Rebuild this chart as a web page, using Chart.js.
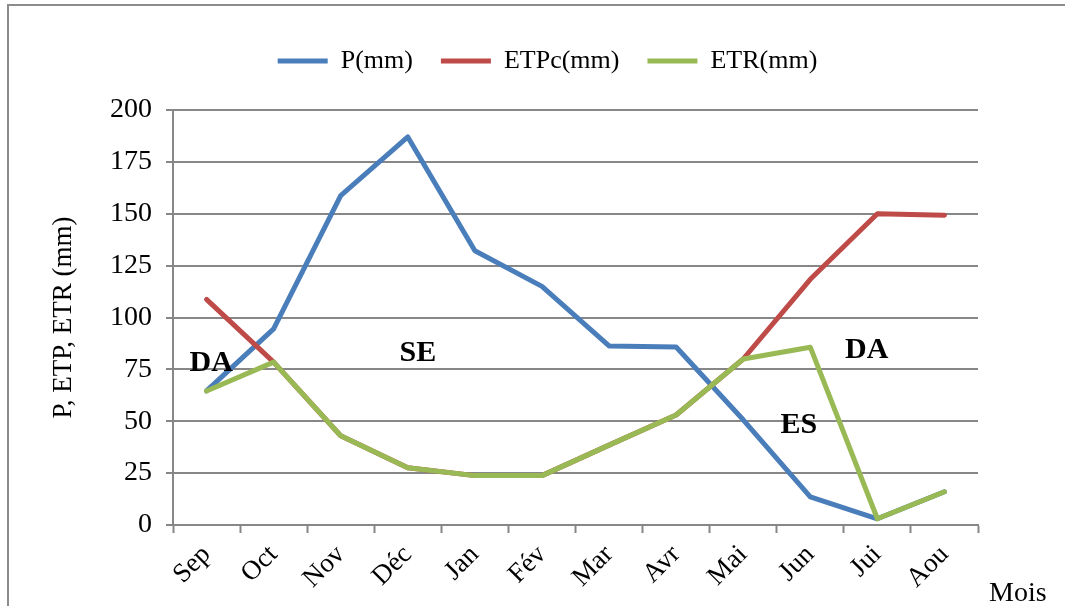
<!DOCTYPE html>
<html lang="fr">
<head>
<meta charset="utf-8">
<title>Bilan hydrique mensuel</title>
<script src="https://cdn.jsdelivr.net/npm/chart.js@4.4.1/dist/chart.umd.min.js"></script>
<style>
  html, body { margin: 0; padding: 0; background: #ffffff; }
  #wrap { width: 1065px; height: 606px; }
</style>
</head>
<body>
<div id="wrap"><canvas id="bilan" width="1065" height="606"></canvas></div>
<script>
// Mois de l'année hydrologique
const months = ['Sep', 'Oct', 'Nov', 'Déc', 'Jan', 'Fév', 'Mar', 'Avr', 'Mai', 'Jun', 'Jui', 'Aou'];

// Précipitations, ETP corrigée et ETR (mm)
const precip = [64.6, 94.5, 158.7, 187, 132.2, 115, 86.3, 85.8, 50.7, 13.6, 3, 16];
const etpc   = [108.7, 78.5, 43, 27.6, 23.8, 23.8, 38.5, 53, 80, 118.4, 150, 149.3];
const etr    = [64.6, 78.5, 43, 27.6, 23.8, 23.8, 38.5, 53, 80, 85.7, 3, 16];

// Graduations de l'axe vertical
const yTicks = [0, 25, 50, 75, 100, 125, 150, 175, 200];

// Zones du bilan : texte, position en indice de mois et en mm
const zoneLabels = [
  { text: 'DA', at: 0.07, mm: 78 },
  { text: 'SE', at: 3.15, mm: 83 },
  { text: 'ES', at: 8.83, mm: 48 },
  { text: 'DA', at: 9.84, mm: 84 }
];

const SERIF = '"Liberation Serif", "Times New Roman", serif';
const GRID = '#878787';

const frameAndNotes = {
  id: 'frameAndNotes',
  afterInit(chart) {
    const legend = chart.legend;
    const baseFit = legend.fit;
    legend.fit = function () {
      baseFit.call(this);
      this.height = 90;
    };
  },
  afterLayout(chart) {
    chart.legend.left = 118;
    chart.legend.right = 977;
  },
  beforeDraw(chart) {
    const ctx = chart.ctx;
    ctx.save();
    ctx.fillStyle = '#ffffff';
    ctx.fillRect(0, 0, chart.width, chart.height);
    ctx.strokeStyle = '#8c8c8c';
    ctx.lineWidth = 2;
    ctx.beginPath();
    ctx.moveTo(8, chart.height + 5);
    ctx.lineTo(8, 5);
    ctx.lineTo(chart.width + 5, 5);
    ctx.stroke();
    ctx.restore();
  },
  afterDraw(chart) {
    const ctx = chart.ctx;
    const xs = chart.scales.x;
    const ys = chart.scales.y;
    ctx.save();
    ctx.fillStyle = '#000000';
    ctx.textAlign = 'center';
    ctx.textBaseline = 'middle';
    ctx.font = 'bold 30px ' + SERIF;
    zoneLabels.forEach(z => {
      ctx.fillText(z.text, xs.getPixelForValue(z.at), ys.getPixelForValue(z.mm));
    });
    ctx.font = '28px ' + SERIF;
    ctx.textAlign = 'left';
    ctx.fillText('Mois', xs.right + 11, xs.top + 69);
    ctx.restore();
  }
};

const lineStyle = {
  fill: false,
  borderWidth: 5,
  pointRadius: 0,
  pointHoverRadius: 0,
  tension: 0,
  borderCapStyle: 'round',
  borderJoinStyle: 'round'
};

new Chart(document.getElementById('bilan'), {
  type: 'line',
  data: {
    labels: months,
    datasets: [
      Object.assign({ label: 'P(mm)', data: precip, borderColor: '#4a7ebb', backgroundColor: '#4a7ebb', order: 3 }, lineStyle),
      Object.assign({ label: 'ETPc(mm)', data: etpc, borderColor: '#be4b48', backgroundColor: '#be4b48', order: 2 }, lineStyle),
      Object.assign({ label: 'ETR(mm)', data: etr, borderColor: '#98b954', backgroundColor: '#98b954', order: 1 }, lineStyle)
    ]
  },
  options: {
    responsive: false,
    animation: false,
    events: [],
    layout: { padding: { top: 20, left: 0, right: 87, bottom: 0 } },
    plugins: {
      tooltip: { enabled: false },
      legend: {
        position: 'top',
        align: 'center',
        labels: {
          usePointStyle: true,
          pointStyle: 'line',
          pointStyleWidth: 50,
          boxHeight: 20,
          padding: 28,
          color: '#000000',
          font: { family: SERIF, size: 26 },
          sort: (a, b) => a.datasetIndex - b.datasetIndex
        }
      }
    },
    scales: {
      x: {
        type: 'category',
        offset: true,
        afterFit(scale) { scale.height = 81; },
        grid: {
          offset: true,
          drawOnChartArea: false,
          drawTicks: true,
          tickLength: 8,
          tickWidth: 2,
          tickColor: GRID,
          color: GRID
        },
        border: { display: true, color: GRID, width: 2 },
        ticks: {
          autoSkip: false,
          maxRotation: 45,
          minRotation: 45,
          padding: 6,
          color: '#000000',
          font: { family: SERIF, size: 27 }
        }
      },
      y: {
        min: 0,
        max: 200,
        afterFit(scale) { scale.width = 173; },
        afterBuildTicks(scale) { scale.ticks = yTicks.map(v => ({ value: v })); },
        grid: {
          color: GRID,
          lineWidth: 2,
          drawTicks: true,
          tickLength: 7,
          tickWidth: 2,
          tickColor: GRID
        },
        border: { display: true, color: GRID, width: 2 },
        ticks: {
          padding: 14,
          color: '#000000',
          font: { family: SERIF, size: 28 }
        },
        title: {
          display: true,
          text: 'P, ETP, ETR (mm)',
          color: '#000000',
          font: { family: SERIF, size: 27 },
          padding: { top: 48, bottom: 0 }
        }
      }
    }
  },
  plugins: [frameAndNotes]
});
</script>
</body>
</html>
